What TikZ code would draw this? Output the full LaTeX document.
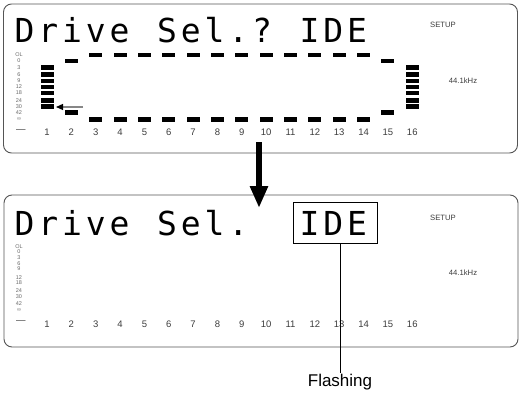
\documentclass[tikz,border=0pt]{standalone}
\usepackage{fontspec}
\setmainfont{Liberation Sans}
\newfontfamily\lcdfont{DejaVu Sans Mono}
\usetikzlibrary{arrows.meta, positioning, calc}
\definecolor{panelgray}{RGB}{85, 85, 85}
\definecolor{labelgray}{RGB}{60, 60, 60}
\definecolor{scalegray}{RGB}{105, 105, 105}
\definecolor{pointergray}{RGB}{135, 135, 135}

\begin{document}
\begin{tikzpicture}[x=1pt, y=-1pt,
    panel/.style={draw=panelgray, line width=0.9pt,
                  rounded corners=8pt, minimum width=514pt,
                  inner sep=0pt},
    lcd/.style={font=\lcdfont\fontsize{33}{33}\selectfont,
                anchor=base, inner sep=0pt},
    seg/.style={fill=black, minimum width=13pt,
                minimum height=4.5pt, inner sep=0pt},
    num/.style={font=\fontsize{9.5}{10}\selectfont,
                text=labelgray, inner sep=0pt},
    lvl/.style={font=\fontsize{5.5}{6}\selectfont,
                text=scalegray, inner sep=0pt},
    tag/.style={font=\fontsize{7.7}{8}\selectfont,
                text=labelgray, inner sep=0pt},
]
\useasboundingbox (0, 0) rectangle (520, 396);

% -- Panels --
\node[panel, minimum height=149pt] (topP) at (260.5, 78.5) {};
\node[panel, minimum height=152pt] (botP) at (261, 271) {};

% -- Top display: message --
\foreach \i/\c in {0/D, 1/r, 2/i, 3/v, 4/e, 6/S, 7/e, 8/l,
                   9/., 10/?, 12/I, 13/D, 14/E}
    \node[lcd] (tc\i) at ({24.5+23.75*\i}, 43) {\c};
\node[tag] (tSetup) at (443, 25) {SETUP};
\node[tag] (tRate) at (463, 81) {44.1kHz};

% -- Top display: level scale --
\foreach \t/\y [count=\k] in {OL/55, 0/61, 3/67.5, 6/74.5, 9/81,
        12/87, 18/93, 24/100.5, 30/106.5, 42/112.5, ∞/119.5}
    \node[lvl] (tl\k) at (19, \y) {\t};

% -- Top display: meter segments --
\foreach \n in {1, 16}
    \foreach \y [count=\k] in {67.5, 74.5, 81, 87, 93, 100.5, 106.5}
        \node[seg] (ts\n-\k) at ({47+24.35*(\n-1)}, \y) {};
\foreach \n in {2, 15} {
    \node[seg] (ts\n-a) at ({47+24.35*(\n-1)}, 61) {};
    \node[seg] (ts\n-b) at ({47+24.35*(\n-1)}, 112.5) {};
}
\foreach \n in {3, ..., 14} {
    \node[seg] (ts\n-a) at ({47+24.35*(\n-1)}, 55) {};
    \node[seg] (ts\n-b) at ({47+24.35*(\n-1)}, 119.5) {};
}

% -- Top display: track numbers --
\node[num] (tdash) at (21, 131) {—};
\foreach \n in {1, ..., 16}
    \node[num] (tn\n) at ({47+24.35*(\n-1)}, 132) {\n};

% -- Level pointer --
\coordinate (ptrS) at (83, 107);
\coordinate (ptrE) at (56, 107);
\draw[pointergray, line width=1.3pt,
      -{Triangle[length=7pt, width=6pt, color=black]}]
    (ptrS) -- (ptrE);

% -- Transition arrow --
\coordinate (arrS) at (259, 142);
\coordinate (arrE) at (259, 208);
\draw[line width=6pt, -{Triangle[width=17pt, length=22pt]}]
    (arrS) -- (arrE);

% -- Bottom display: message --
\foreach \i/\c in {0/D, 1/r, 2/i, 3/v, 4/e, 6/S, 7/e, 8/l,
                   9/., 12/I, 13/D, 14/E}
    \node[lcd] (bc\i) at ({24.5+23.75*\i}, 235) {\c};
\node[draw, line width=0.9pt, minimum width=84pt,
      minimum height=41pt, inner sep=0pt] (ideBox)
    at (335, 222.5) {};
\node[tag] (bSetup) at (443, 218) {SETUP};
\node[tag] (bRate) at (463, 273) {44.1kHz};

% -- Bottom display: level scale --
\foreach \t/\y [count=\k] in {OL/247, 0/252, 3/258, 6/264, 9/269,
        12/278, 18/283, 24/291, 30/297, 42/304, ∞/310}
    \node[lvl] (bl\k) at (19, \y) {\t};

% -- Bottom display: track numbers --
\node[num] (bdash) at (21, 322) {—};
\foreach \n in {1, ..., 16}
    \node[num] (bn\n) at ({47+24.35*(\n-1)}, 324) {\n};

% -- Flashing callout --
\node[font=\fontsize{17}{18}\selectfont, anchor=north,
      inner sep=1pt] (flash) at (340, 373) {Flashing};
\draw[line width=0.8pt] (ideBox.south -| flash.north) -- (flash.north);

\end{tikzpicture}
\end{document}
